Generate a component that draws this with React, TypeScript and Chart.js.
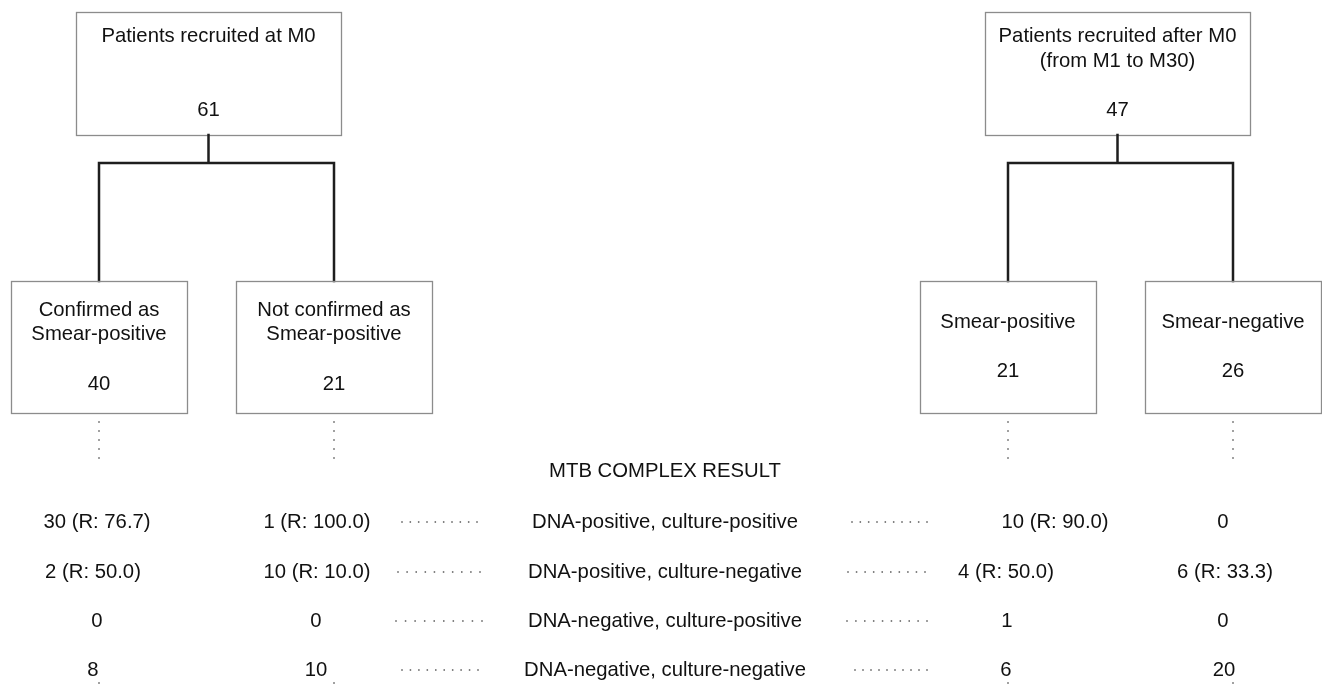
import React, { useEffect, useRef } from "react";
import { Chart, registerables } from "chart.js";

Chart.register(...registerables);

// ---------------- data ----------------
const rootLabels: string[][] = [
  ["Patients recruited at M0"],
  ["Patients recruited after M0", "(from M1 to M30)"],
];
const rootCounts: number[] = [61, 47];

const groupLabels: string[][] = [
  ["Confirmed as", "Smear-positive"],
  ["Not confirmed as", "Smear-positive"],
  ["Smear-positive"],
  ["Smear-negative"],
];
const groupCounts: number[] = [40, 21, 21, 26];

const resultTitle = "MTB COMPLEX RESULT";
const resultCategories: string[] = [
  "DNA-positive, culture-positive",
  "DNA-positive, culture-negative",
  "DNA-negative, culture-positive",
  "DNA-negative, culture-negative",
];
// rows = result categories, columns = the four groups
const resultCounts: number[][] = [
  [30, 1, 10, 0],
  [2, 10, 4, 6],
  [0, 0, 1, 0],
  [8, 10, 6, 20],
];
const resultRates: (number | null)[][] = [
  [76.7, 100.0, 90.0, null],
  [50.0, 10.0, 50.0, 33.3],
  [null, null, null, null],
  [null, null, null, null],
];

// ---------------- layout (axis units = pixels of the figure) ----------------
const W = 1322;
const H = 684;
const rootBoxes = [
  { x0: 76, x1: 341, y0: 12, y1: 135, lineY: [36, 61], countY: 110, branchY: 163, children: [0, 1] },
  { x0: 985, x1: 1250, y0: 12, y1: 135, lineY: [36, 61], countY: 110, branchY: 163, children: [2, 3] },
];
const groupBoxes = [
  { x0: 11, x1: 187, y0: 281, y1: 413, lineY: [310, 334], countY: 384, cx: 99 },
  { x0: 236, x1: 432, y0: 281, y1: 413, lineY: [310, 334], countY: 384, cx: 334 },
  { x0: 920, x1: 1096, y0: 281, y1: 413, lineY: [322], countY: 371, cx: 1008 },
  { x0: 1145, x1: 1321, y0: 281, y1: 413, lineY: [322], countY: 371, cx: 1233 },
];
const titleY = 471;
const rowY = [522, 572, 621, 670];
const colX = [97, 317, 1006, 1224];
const cellShift: number[][] = [
  [0, 0, 49, -1],
  [-4, 0, 0, 1],
  [0, -1, 1, -1],
  [-4, -1, 0, 0],
];
const centerX = 665;
const leftDots = [
  [402, 477],
  [398, 480],
  [396, 482],
  [402, 478],
];
const rightDots = [
  [852, 927],
  [848, 925],
  [847, 927],
  [855, 927],
];

const FONT = '20.3px "Liberation Sans", Arial, sans-serif';
const TEXT_COLOR = "#111111";
const BOX_COLOR = "#8c8c8c";
const LINE_COLOR = "#1e1e1e";
const DOT_COLOR = "#5a5a5a";

function fmt(n: number, r: number | null) {
  return r === null ? `${n}` : `${n} (R: ${r.toFixed(1)})`;
}

const flowPlugin = {
  id: "flowchart",
  afterDraw(chart: any) {
    const ctx: CanvasRenderingContext2D = chart.ctx;
    const xs = chart.scales.x;
    const ys = chart.scales.y;
    const px = (v: number) => xs.getPixelForValue(v);
    const py = (v: number) => ys.getPixelForValue(v);

    ctx.save();
    ctx.font = FONT;
    ctx.fillStyle = TEXT_COLOR;
    ctx.textAlign = "center";
    ctx.textBaseline = "middle";

    const box = (b: any) => {
      ctx.strokeStyle = BOX_COLOR;
      ctx.lineWidth = 1.3;
      ctx.strokeRect(px(b.x0) + 0.5, py(b.y0) + 0.5, px(b.x1) - px(b.x0), py(b.y1) - py(b.y0));
    };

    const vdots = (x: number, y0: number, y1: number, step: number) => {
      ctx.fillStyle = DOT_COLOR;
      for (let y = y0; y <= y1; y += step) {
        ctx.fillRect(px(x) - 0.75, py(y) - 0.75, 1.5, 1.5);
      }
    };
    const hdots = (x0: number, x1: number, y: number) => {
      ctx.fillStyle = DOT_COLOR;
      const n = 10;
      const step = (x1 - x0) / (n - 1);
      for (let i = 0; i < n; i++) {
        ctx.fillRect(px(x0 + i * step) - 0.75, py(y) - 0.75, 1.5, 1.5);
      }
    };

    // root boxes + connectors
    rootBoxes.forEach((b, i) => {
      box(b);
      const cx = (b.x0 + b.x1) / 2;
      ctx.fillStyle = TEXT_COLOR;
      rootLabels[i].forEach((t, k) => ctx.fillText(t, px(cx), py(b.lineY[k])));
      ctx.fillText(String(rootCounts[i]), px(cx), py(b.countY));

      ctx.strokeStyle = LINE_COLOR;
      ctx.lineWidth = 2.5;
      ctx.lineCap = "square";
      const c0 = groupBoxes[b.children[0]].cx;
      const c1 = groupBoxes[b.children[1]].cx;
      const gTop = groupBoxes[b.children[0]].y0;
      ctx.beginPath();
      ctx.moveTo(px(cx), py(b.y1));
      ctx.lineTo(px(cx), py(b.branchY));
      ctx.moveTo(px(c0), py(gTop));
      ctx.lineTo(px(c0), py(b.branchY));
      ctx.lineTo(px(c1), py(b.branchY));
      ctx.lineTo(px(c1), py(gTop));
      ctx.stroke();
    });

    // group boxes
    groupBoxes.forEach((b, i) => {
      box(b);
      ctx.fillStyle = TEXT_COLOR;
      groupLabels[i].forEach((t, k) => ctx.fillText(t, px(b.cx), py(b.lineY[k])));
      ctx.fillText(String(groupCounts[i]), px(b.cx), py(b.countY));
      vdots(b.cx, 422, 460, 9);
      vdots(b.cx, 683, 683, 9);
    });

    // result table
    ctx.fillStyle = TEXT_COLOR;
    ctx.fillText(resultTitle, px(centerX), py(titleY));
    resultCategories.forEach((cat, r) => {
      ctx.fillStyle = TEXT_COLOR;
      ctx.fillText(cat, px(centerX), py(rowY[r]));
      resultCounts[r].forEach((n, c) => {
        ctx.fillStyle = TEXT_COLOR;
        ctx.fillText(fmt(n, resultRates[r][c]), px(colX[c] + cellShift[r][c]), py(rowY[r]));
      });
      hdots(leftDots[r][0], leftDots[r][1], rowY[r]);
      hdots(rightDots[r][0], rightDots[r][1], rowY[r]);
    });

    ctx.restore();
  },
};

export default function App() {
  const ref = useRef<HTMLCanvasElement | null>(null);

  useEffect(() => {
    document.body.style.margin = "0";
    const canvas = ref.current;
    if (!canvas) return;
    const chart = new Chart(canvas, {
      type: "scatter",
      data: { datasets: [] },
      options: {
        animation: false,
        responsive: false,
        maintainAspectRatio: false,
        devicePixelRatio: 1,
        layout: { padding: 0 },
        plugins: { legend: { display: false }, tooltip: { enabled: false } },
        scales: {
          x: { type: "linear", min: 0, max: W, display: false },
          y: { type: "linear", min: 0, max: H, reverse: true, display: false },
        },
      },
      plugins: [flowPlugin],
    });
    return () => chart.destroy();
  }, []);

  return (
    <div style={{ width: W, height: H, background: "#fff" }}>
      <canvas ref={ref} width={W} height={H} style={{ display: "block" }} />
    </div>
  );
}
